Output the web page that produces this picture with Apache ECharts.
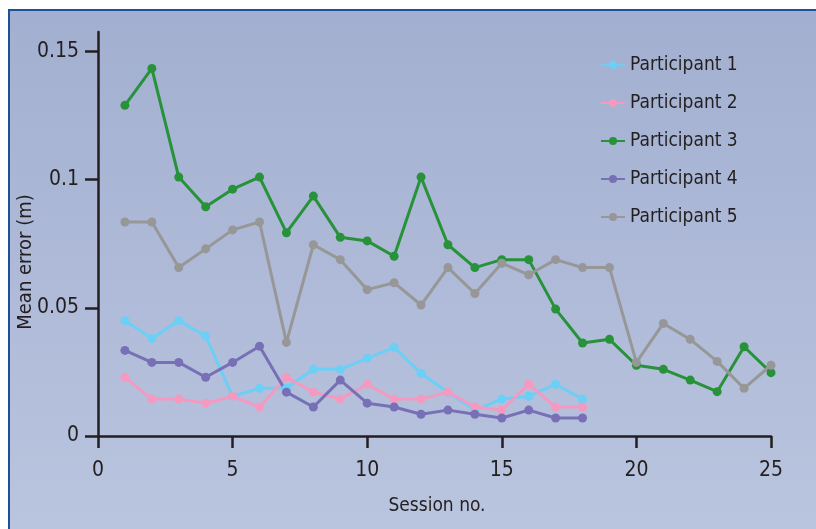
<!DOCTYPE html>
<html>
<head>
<meta charset="utf-8">
<script src="https://cdn.jsdelivr.net/npm/echarts@6/dist/echarts.min.js"></script>
<style>
    html, body { margin: 0; padding: 0; background: #fff; }
    #chart { width: 816px; height: 529px; }
</style>
</head>
<body>
<div id="chart"></div>
<script>
    // session numbers on the x axis
    var sessions = [1, 2, 3, 4, 5, 6, 7, 8, 9, 10, 11, 12, 13, 14, 15, 16, 17, 18, 19, 20, 21, 22, 23, 24, 25]
    // mean error (m) per participant
    var participant1 = [0.045, 0.038, 0.045, 0.039, 0.0155, 0.0186, 0.0186, 0.026, 0.026, 0.0303, 0.0346, 0.0245, 0.0171, 0.0101, 0.0144, 0.0155, 0.0202, 0.0144]
    var participant2 = [0.0229, 0.0144, 0.0144, 0.0128, 0.0155, 0.0113, 0.0229, 0.0171, 0.0144, 0.0202, 0.0144, 0.0144, 0.0171, 0.0113, 0.0101, 0.0202, 0.0113, 0.0113]
    var participant3 = [0.129, 0.1434, 0.101, 0.0894, 0.0963, 0.101, 0.0793, 0.0936, 0.0775, 0.0761, 0.0701, 0.101, 0.0746, 0.0657, 0.0688, 0.0688, 0.0495, 0.0363, 0.0377, 0.0276, 0.026, 0.0218, 0.0173, 0.0348, 0.0247]
    var participant4 = [0.0334, 0.0287, 0.0287, 0.0229, 0.0287, 0.035, 0.0171, 0.0113, 0.0218, 0.0128, 0.0113, 0.0085, 0.0101, 0.0085, 0.007, 0.0101, 0.007, 0.007]
    var participant5 = [0.0835, 0.0835, 0.0657, 0.073, 0.0804, 0.0835, 0.0365, 0.0746, 0.0688, 0.0571, 0.0598, 0.0511, 0.0657, 0.0556, 0.0674, 0.0629, 0.0688, 0.0657, 0.0657, 0.0287, 0.0439, 0.0377, 0.0291, 0.0186, 0.0276]
    var xTicks = [0, 5, 10, 15, 20, 25]
    var yTicks = [0, 0.05, 0.1, 0.15]

    var fontName = '"DejaVu Sans Condensed", "Liberation Sans Narrow", sans-serif'
    var inkColor = '#231f20'

    var list = [
        {label: 'Participant 1', color: '#6ccff6', data: participant1},
        {label: 'Participant 2', color: '#f49ac1', data: participant2},
        {label: 'Participant 3', color: '#27923a', data: participant3},
        {label: 'Participant 4', color: '#7870b6', data: participant4},
        {label: 'Participant 5', color: '#979797', data: participant5}
    ]

    var seriesList = []
    list.forEach(function (item) {
        seriesList.push({
            name: item.label,
            type: 'line',
            symbol: 'circle',
            symbolSize: 9,
            lineStyle: {color: item.color, width: 3},
            itemStyle: {color: item.color},
            data: item.data.map(function (v, i) { return [sessions[i], v] })
        })
    })

    var myChart = echarts.init(document.getElementById('chart'))
    myChart.setOption({
        animation: false,
        backgroundColor: '#ffffff',
        textStyle: {fontFamily: fontName},
        graphic: [
            {
                type: 'rect',
                z: -100,
                shape: {x: 9, y: 10, width: 820, height: 530},
                style: {
                    fill: new echarts.graphic.LinearGradient(0, 0, 0, 1, [
                        {offset: 0, color: '#a2afd0'},
                        {offset: 1, color: '#bac5df'}
                    ]),
                    stroke: '#1f4f98',
                    lineWidth: 2
                }
            },
            {
                type: 'text',
                x: 437,
                y: 506,
                style: {
                    text: 'Session no.', fontSize: 19, fontFamily: fontName, fill: inkColor,
                    align: 'center', verticalAlign: 'middle'
                }
            },
            {
                type: 'text',
                x: 26,
                y: 262,
                rotation: Math.PI / 2,
                style: {
                    text: 'Mean error (m)', fontSize: 20, fontFamily: fontName, fill: inkColor,
                    align: 'center', verticalAlign: 'middle'
                }
            }
        ],
        legend: {
            orient: 'vertical',
            left: 595,
            top: 48,
            itemWidth: 24,
            itemHeight: 10,
            itemGap: 14,
            textStyle: {fontSize: 19, fontFamily: fontName, color: inkColor, lineHeight: 24},
            data: list.map(function (item) { return item.label })
        },
        grid: {
            left: 98,
            right: 45,
            top: 32,
            bottom: 93,
            containLabel: false
        },
        xAxis: {
            type: 'value',
            min: 0,
            max: 25,
            interval: 5,
            splitLine: {show: false},
            axisLine: {lineStyle: {color: inkColor, width: 2.5}},
            axisTick: {show: true, length: 12, lineStyle: {color: inkColor, width: 2.5}, customValues: xTicks},
            axisLabel: {margin: 24, fontSize: 21, color: inkColor, customValues: xTicks}
        },
        yAxis: {
            type: 'value',
            min: 0,
            max: 0.1576,
            splitLine: {show: false},
            axisLine: {show: true, lineStyle: {color: inkColor, width: 2.5}},
            axisTick: {show: true, length: 13, lineStyle: {color: inkColor, width: 2.5}, customValues: yTicks},
            axisLabel: {margin: 19, fontSize: 21, color: inkColor, customValues: yTicks}
        },
        series: seriesList
    })
</script>
</body>
</html>
